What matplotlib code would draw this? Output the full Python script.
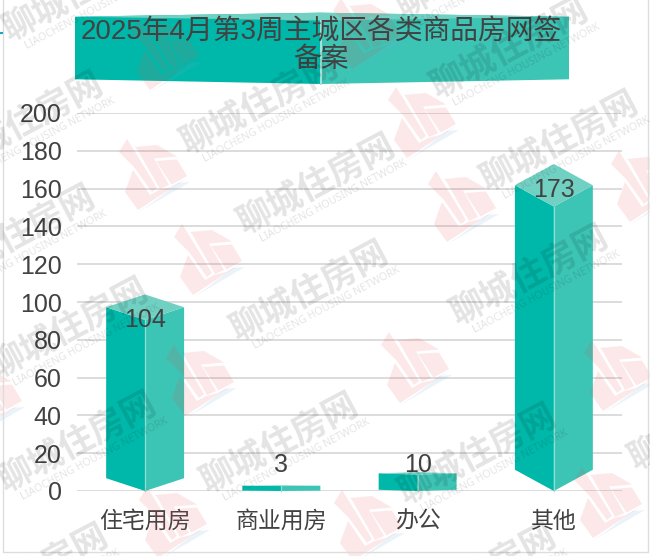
import matplotlib
matplotlib.use('Agg')
import matplotlib.pyplot as plt
from matplotlib.patches import Polygon

plt.rcParams['font.family'] = ['Liberation Sans', 'Noto Sans CJK SC']

categories = ['住宅用房', '商业用房', '办公', '其他']
values = [104, 3, 10, 173]
y_ticks = list(range(0, 201, 20))
title = '2025年4月第3周主城区各类商品房网签\n备案'

LEFT_C, RIGHT_C, TOP_C, EDGE_C = '#00b8a9', '#3cc4b5', '#70d1c3', '#8fdfd3'
TEXT_C = '#424242'
W, H = 650, 556

fig = plt.figure(figsize=(6.5, 5.56), dpi=100, facecolor='white')

# 主图区域，按像素位置摆放
ax = fig.add_axes([77 / W, 1 - 491 / H, 545 / W, 378 / H])
ax.set_xlim(-0.5, 3.5)
ax.set_ylim(0, 200)
ax.set_facecolor('none')
for s in ax.spines.values():
    s.set_visible(False)
ax.set_yticks(y_ticks)
ax.set_xticks(range(len(categories)))
ax.set_xticklabels(categories, fontsize=16.5, color=TEXT_C)
ax.tick_params(axis='both', length=0)
ax.tick_params(axis='y', labelsize=18, labelcolor=TEXT_C, pad=11)
ax.tick_params(axis='x', pad=13.5)
ax.grid(axis='y', color='#d6d6d6', lw=1.2)
ax.set_axisbelow(True)

hw = 0.286
for i, v in enumerate(values):
    d = 0.065 * v  # 立体效果的深度随高度变化
    ax.add_patch(Polygon([(i - hw, d), (i, 0), (i, v - 2 * d), (i - hw, v - d)],
                         fc=LEFT_C, ec='none', zorder=3, clip_on=False))
    ax.add_patch(Polygon([(i + hw, d), (i, 0), (i, v - 2 * d), (i + hw, v - d)],
                         fc=RIGHT_C, ec='none', zorder=3, clip_on=False))
    ax.add_patch(Polygon([(i - hw, v - d), (i, v), (i + hw, v - d), (i, v - 2 * d)],
                         fc=TOP_C, ec='none', zorder=3, clip_on=False))
    ax.plot([i, i], [0, v - 2 * d], color=EDGE_C, lw=0.9, zorder=4, clip_on=False)
    label_y = v - 13.5 if v > 50 else 14
    ax.text(i, label_y, str(v), ha='center', va='center', fontsize=18,
            color=TEXT_C, zorder=5)

# 覆盖层：标题色带、水印、外框都用像素坐标
ov = fig.add_axes([0, 0, 1, 1], zorder=5)
ov.set_xlim(0, W)
ov.set_ylim(H, 0)
ov.axis('off')
ov.patch.set_alpha(0)

ov.add_patch(Polygon([(75, 16.7), (321, 12.7), (321, 84), (75, 79.3)], fc=LEFT_C, ec='none'))
ov.add_patch(Polygon([(321, 12.7), (569, 16.7), (569, 79.3), (321, 84)], fc=RIGHT_C, ec='none'))
ov.add_patch(Polygon([(75, 16.7), (321, 12.7), (569, 16.7), (321, 20.5)], fc=TOP_C, ec='none'))
ov.plot([321, 321], [20.5, 84], color='#a5e6dc', lw=1.4)
ov.text(321, 46, title, ha='center', va='center', fontsize=20, color=TEXT_C,
        linespacing=1.1, multialignment='center')

# 外框
ov.plot([3, 3, 648, 648], [0, 552, 552, 0], color='#dddddd', lw=1)
ov.plot([0, 1.5], [33, 33], color='#18a8c8', lw=1.5)

# 红色 logo 水印，几块之间留缝
logo_xy = [(153, 175), (208, 260), (200, 381), (173, 523), (415, 368), (368, 526),
           (618, 376), (608, 503), (462, 207), (422, 123), (645, 187), (165, 55),
           (367, 34), (-12, 400)]
pieces = [
    [(-34, -23), (-26, -36), (-18.5, -24), (4, 13), (-1, 17), (-19, -8)],
    [(-20, -5), (-3, 20), (6, 15), (18, 12), (34, 3), (-15, 35), (-28, 17)],
    [(-16, -26), (-18, -28), (4, -30), (24, -18.5), (1, -16.5), (16, 10), (7, 14)],
    [(3, -14), (24, -15.5), (34, 1), (18.5, 9.5)],
]
swoosh = [(-16, 38), (37, 7), (25, 8), (-1, 28)]
for cx, cy in logo_xy:
    for p in pieces:
        ov.add_patch(Polygon([(cx + a, cy + b) for a, b in p], fc='#e85050', alpha=0.13, ec='none'))
    ov.add_patch(Polygon([(cx + a, cy + b) for a, b in swoosh], fc='#70b0e0', alpha=0.14, ec='none'))

# 文字水印
mark_xy = [(25, 124), (17, 237), (260, 106), (317, 186), (310, 293), (280, 445), (78, 444),
           (70, 330), (30, 576), (478, 576), (478, 456), (560, 143), (530, 277), (510, 50),
           (475, -30), (82, -7), (708, 422)]
for cx, cy in mark_xy:
    ov.text(cx, cy, '聊城住房网', rotation=28, rotation_mode='anchor', ha='center', va='center',
            fontsize=25, fontweight='bold', color='black', alpha=0.11)
    ov.text(cx + 17, cy + 15, 'LIAOCHENG HOUSING NETWORK', rotation=28, rotation_mode='anchor',
            ha='center', va='center', fontsize=7.6, family='Noto Sans', color='black', alpha=0.11)

fig.savefig('out.png', dpi=100)
